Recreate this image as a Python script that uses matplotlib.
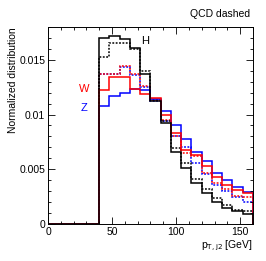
import numpy as np
import matplotlib
matplotlib.use("Agg")
import matplotlib.pyplot as plt
from matplotlib.ticker import MultipleLocator, FixedLocator

# bin edges in GeV (zero below the 40 GeV cut)
edges = [0, 40, 48, 56, 64, 72, 80, 88, 96, 104, 112, 120, 128, 136, 144, 152, 160]

h_nlo = [0.0170, 0.0172, 0.0169, 0.0161, 0.0137, 0.0112, 0.0092, 0.0066, 0.0051, 0.0037, 0.0028, 0.0020, 0.0015, 0.0012, 0.0009]
h_qcd = [0.0153, 0.0165, 0.0165, 0.0160, 0.0140, 0.0113, 0.0094, 0.0069, 0.0056, 0.0041, 0.0032, 0.0024, 0.0017, 0.0013, 0.0012]
w_nlo = [0.0122, 0.0134, 0.0134, 0.0123, 0.0119, 0.0115, 0.0100, 0.0083, 0.0068, 0.0063, 0.0053, 0.0043, 0.0036, 0.0031, 0.0028]
w_qcd = [0.0137, 0.0137, 0.0144, 0.0137, 0.0126, 0.0113, 0.0095, 0.0080, 0.0065, 0.0062, 0.0047, 0.0037, 0.0032, 0.0026, 0.0025]
z_nlo = [0.0108, 0.0117, 0.0120, 0.0123, 0.0122, 0.0114, 0.0103, 0.0090, 0.0078, 0.0066, 0.0058, 0.0047, 0.0040, 0.0034, 0.0029]
z_qcd = [0.0137, 0.0137, 0.0143, 0.0136, 0.0125, 0.0112, 0.0094, 0.0080, 0.0070, 0.0056, 0.0046, 0.0036, 0.0030, 0.0025, 0.0020]

plt.rcParams['font.family'] = ['Liberation Sans', 'DejaVu Sans']
plt.rcParams['font.size'] = 7.5

fig = plt.figure(figsize=(2.66, 2.61), dpi=100)
ax = fig.add_axes([0.1805, 0.1418, 0.7705, 0.7548])

dot = (0, (1.2, 1.0))
lw = 1.1

# dashed (QCD) first, solid on top
ax.stairs([0] + z_qcd, edges, color='blue', lw=lw, ls=dot)
ax.stairs([0] + w_qcd, edges, color='red', lw=lw, ls=dot)
ax.stairs([0] + h_qcd, edges, color='black', lw=lw, ls=dot)
ax.stairs([0] + z_nlo, edges, color='blue', lw=lw)
ax.stairs([0] + w_nlo, edges, color='red', lw=lw)
ax.stairs([0] + h_nlo, edges, color='black', lw=lw)

ax.set_xlim(0, 160)
ax.set_ylim(0, 0.018)

ax.xaxis.set_major_locator(FixedLocator([0, 50, 100, 150]))
ax.xaxis.set_minor_locator(MultipleLocator(10))
ax.yaxis.set_major_locator(FixedLocator([0, 0.005, 0.01, 0.015]))
ax.yaxis.set_minor_locator(MultipleLocator(0.001))
ax.set_yticklabels(['0', '0.005', '0.01', '0.015'])
ax.set_xticklabels(['0', '50', '100', '150'])

ax.tick_params(which='both', direction='in', top=True, right=True, width=0.6, pad=2)
ax.tick_params(which='major', length=5)
ax.tick_params(which='minor', length=2.5)
for s in ax.spines.values():
    s.set_linewidth(0.7)

ax.set_ylabel('Normalized distribution', loc='top', labelpad=1)
ax.set_xlabel(r'p$_{\mathrm{T,j2}}$ [GeV]', loc='right', labelpad=1)

ax.text(75.5, 0.0167, 'H', color='black', fontsize=8, ha='center', va='center')
ax.text(28, 0.0123, 'W', color='red', fontsize=8, ha='center', va='center')
ax.text(28, 0.0106, 'Z', color='blue', fontsize=8, ha='center', va='center')
fig.text(0.94, 0.945, 'QCD dashed', ha='right', va='center', fontsize=7.5)

fig.savefig('out.png', dpi=100)
